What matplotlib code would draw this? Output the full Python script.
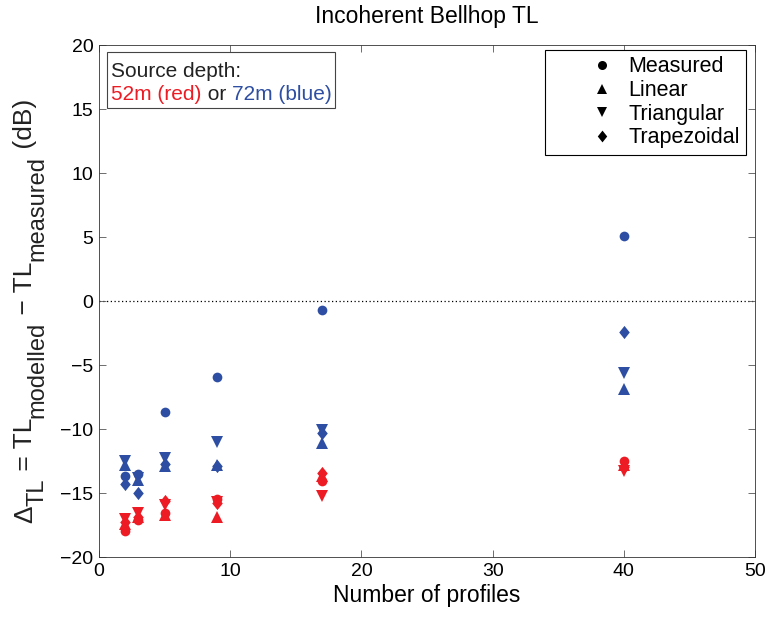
import matplotlib
matplotlib.use("Agg")
import matplotlib.pyplot as plt
from matplotlib.offsetbox import (TextArea, HPacker, VPacker, AnchoredOffsetbox,
                                  DrawingArea)
from matplotlib.legend_handler import HandlerLine2D

plt.rcParams['font.family'] = ['Liberation Sans', 'DejaVu Sans']
plt.rcParams['axes.unicode_minus'] = True

profiles = [2, 3, 5, 9, 17, 40]

# Source depth 52 m (red)
red_measured    = [-18.0, -17.1, -16.6, -15.5, -14.1, -12.5]
red_linear      = [-17.4, -16.9, -16.7, -16.9, -13.7, -12.8]
red_triangular  = [-17.0, -16.6, -15.9, -15.7, -15.2, -13.3]
red_trapezoidal = [-17.3, -16.9, -15.6, -15.8, -13.4, -13.0]

# Source depth 72 m (blue)
blue_measured    = [-13.7, -13.5, -8.7, -5.9, -0.7, 5.1]
blue_linear      = [-12.8, -14.0, -12.9, -12.8, -11.1, -6.9]
blue_triangular  = [-12.5, -13.8, -12.3, -11.0, -10.1, -5.6]
blue_trapezoidal = [-14.3, -15.0, -12.7, -12.9, -10.3, -2.4]

legend_labels = ['Measured', 'Linear', 'Triangular', 'Trapezoidal']

RED = '#ED1C24'
BLUE = '#2D4EA2'
DIAMOND = [(0, -1), (0.8, 0), (0, 1), (-0.8, 0), (0, -1)]

W, H = 765, 617
fig = plt.figure(figsize=(W / 100, H / 100), dpi=100)
ax = fig.add_axes([99 / W, 1 - 557 / H, 656 / W, 512 / H])

ax.axhline(0, color='black', linestyle=(0, (1, 2)), linewidth=0.9, zorder=1)

markers = [('o', 7), ('^', 8), ('v', 8), (DIAMOND, 9.5)]
for color, data in [(RED, [red_measured, red_linear, red_triangular, red_trapezoidal]),
                    (BLUE, [blue_measured, blue_linear, blue_triangular, blue_trapezoidal])]:
    for vals, (m, ms) in zip(data, markers):
        ax.plot(profiles, vals, linestyle='none', marker=m, color=color,
                markersize=ms, markeredgewidth=0, zorder=3)


class RightMarker(HandlerLine2D):
    def create_artists(self, legend, orig_handle, xdescent, ydescent, width,
                       height, fontsize, trans):
        arts = super().create_artists(legend, orig_handle, xdescent, ydescent,
                                      width, height, fontsize, trans)
        for a in arts:
            a.set_xdata([x + 0.21 * width for x in a.get_xdata()])
        return arts


handles = []
leg_markers = [('o', 6.5), ('^', 7), ('v', 7), (DIAMOND, 8.5)]
for (m, ms), lab in zip(leg_markers, legend_labels):
    h, = ax.plot([], [], linestyle='none', marker=m, color='black',
                 markersize=ms, markeredgewidth=0, label=lab)
    handles.append(h)
leg = ax.legend(handles=handles, loc='upper right',
                bbox_to_anchor=((746 - 99) / 656, (557 - 50) / 512),
                borderaxespad=0, fontsize=15.5, frameon=True, fancybox=False,
                edgecolor='black', framealpha=1, handletextpad=0.26,
                borderpad=0.3, labelspacing=0.12, handlelength=3.3,
                handler_map={h: RightMarker(numpoints=1) for h in handles})
leg.get_frame().set_linewidth(0.8)

ax.set_xlim(0, 50)
ax.set_ylim(-20, 20)
ax.set_xticks([0, 10, 20, 30, 40, 50])
ax.set_yticks(range(-20, 21, 5))
ax.tick_params(direction='in', length=5, width=0.6, labelsize=14,
               top=True, right=True, color='#555555', pad=4)
for s in ax.spines.values():
    s.set_linewidth(0.6)
    s.set_color('#333333')

ax.set_xlabel('Number of profiles', fontsize=16.5, labelpad=3)
ax.set_title('Incoherent Bellhop TL', fontsize=16.5, pad=16)

# Text box
fmt = dict(size=15)
line1 = TextArea('Source depth:', textprops=dict(color='#222222', **fmt))
l2a = TextArea('52m (red)', textprops=dict(color=RED, **fmt))
l2b = TextArea(' or ', textprops=dict(color='#222222', **fmt))
l2c = TextArea('72m (blue)', textprops=dict(color=BLUE, **fmt))
line2 = HPacker(children=[l2a, l2b, l2c], align='baseline', pad=0, sep=0)
box = VPacker(children=[DrawingArea(0, 1), line1, line2], align='left',
              pad=0, sep=3)
ab = AnchoredOffsetbox(loc='upper left', child=box, pad=0.2, borderpad=0,
                       frameon=True, prop=dict(size=15),
                       bbox_to_anchor=((107 - 99) / 656, (557 - 52) / 512),
                       bbox_transform=ax.transAxes)
ab.patch.set_edgecolor('#444444')
ab.patch.set_linewidth(0.8)
ab.patch.set_boxstyle('square', pad=0)
ax.add_artist(ab)

# Y label built from pieces (rotated), with large MATLAB-style subscripts
main_size, sub_size = 19, 17
sub_shift = 11  # pixels
pieces = [('Δ', main_size, 0), ('TL', sub_size, sub_shift),
          (' = TL', main_size, 0), ('modelled', sub_size, sub_shift),
          (' \u2212 TL', main_size, 0), ('measured', sub_size, sub_shift),
          (' (dB)', main_size, 0)]
renderer = fig.canvas.get_renderer()
x_base = 32  # pixel baseline of main text (from left)
texts = []
for s, size, shift in pieces:
    t = fig.text(0, 0, s, fontsize=size, rotation=90, rotation_mode='anchor',
                 ha='left', va='baseline', color='#222222')
    texts.append((t, shift))
lengths = [t.get_window_extent(renderer).height for t, _ in texts]
total = sum(lengths)
center_from_bottom = H - 311
y = center_from_bottom - total / 2
for (t, shift), L in zip(texts, lengths):
    t.set_position(((x_base + shift) / W, y / H))
    y += L

fig.savefig('out.png', dpi=100)
